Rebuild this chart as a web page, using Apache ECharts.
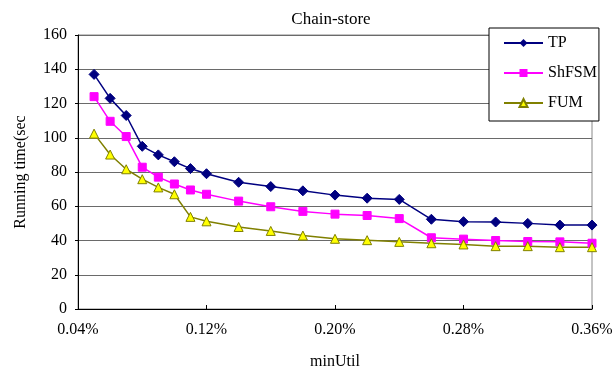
<!DOCTYPE html>
<html>
<head>
<meta charset="utf-8">
<script src="https://cdn.jsdelivr.net/npm/echarts@6/dist/echarts.min.js"></script>
<style>html,body{margin:0;padding:0;background:#fff;}#c{width:614px;height:371px;}</style>
</head>
<body>
<div id="c"></div>
<script>
const minUtil = [0.05,0.06,0.07,0.08,0.09,0.10,0.11,0.12,0.14,0.16,0.18,0.20,0.22,0.24,0.26,0.28,0.30,0.32,0.34,0.36];
const tp    = [137, 123, 113, 95, 90, 86, 82, 79, 74, 71.5, 69, 66.5, 64.7, 64, 52.4, 51, 50.8, 50, 49, 49];
const shfsm = [124, 109.6, 100.7, 82.8, 77, 73, 69.5, 67, 63, 59.7, 57, 55.4, 54.6, 52.8, 41.6, 40.8, 40, 39.4, 39.2, 38.4];
const fum   = [102.4, 90.2, 81.6, 75.8, 71, 67, 53.8, 51.2, 47.9, 45.6, 42.9, 41, 40.2, 39.2, 38.4, 37.7, 36.7, 36.7, 36.1, 36.1];
const xTicks = [0.04, 0.12, 0.20, 0.28, 0.36];
const seriesNames = ['TP', 'ShFSM', 'FUM'];

const FONT = 'Liberation Serif';
const pair = arr => arr.map((v, i) => [minUtil[i], v]);

const chart = echarts.init(document.getElementById('c'), null, {renderer: 'canvas'});
chart.setOption({
  animation: false,
  backgroundColor: '#fff',
  textStyle: {fontFamily: FONT},
  title: {
    text: 'Chain-store', left: 326, top: 6, textAlign: 'center',
    textStyle: {fontFamily: FONT, fontSize: 17, fontWeight: 'normal', color: '#000'}
  },
  grid: {left: 78, right: 22, top: 35, bottom: 62, show: true, borderColor: '#888', borderWidth: 1,
         containLabel: false, outerBoundsMode: 'none'},
  legend: {
    orient: 'vertical', left: 489, top: 28,
    padding: [7, 2, 10, 14],
    itemGap: 14, itemWidth: 39, itemHeight: 10,
    backgroundColor: '#fff', borderColor: '#000', borderWidth: 1,
    textStyle: {fontFamily: FONT, fontSize: 16, color: '#000', lineHeight: 16},
    data: seriesNames
  },
  xAxis: {
    type: 'value', min: 0.04, max: 0.36,
    name: 'minUtil', nameLocation: 'middle', nameGap: 45,
    nameTextStyle: {fontFamily: FONT, fontSize: 16, color: '#000'},
    axisLine: {show: true, onZero: false, lineStyle: {color: '#000', width: 1}},
    axisTick: {show: true, inside: true, length: 4, customValues: xTicks, lineStyle: {color: '#000'}},
    axisLabel: {customValues: xTicks, margin: 13, fontFamily: FONT, fontSize: 16, color: '#000',
      formatter: v => v.toFixed(2) + '%'},
    splitLine: {show: false}
  },
  yAxis: {
    type: 'value', min: 0, max: 160, interval: 20,
    name: 'Running time(sec', nameLocation: 'middle', nameGap: 49, nameRotate: 90,
    nameTextStyle: {fontFamily: FONT, fontSize: 16, color: '#000'},
    axisLine: {show: true, lineStyle: {color: '#000', width: 1}},
    axisTick: {show: true, inside: false, length: 3, lineStyle: {color: '#000'}},
    axisLabel: {margin: 11, fontFamily: FONT, fontSize: 16, color: '#000', formatter: v => String(v)},
    splitLine: {show: true, lineStyle: {color: '#6a6a6a', width: 1}}
  },
  series: [
    {name: 'TP', type: 'line', data: pair(tp), symbol: 'diamond', symbolSize: 10,
     lineStyle: {color: '#000080', width: 1.5}, itemStyle: {color: '#000080', borderColor: '#000080'}},
    {name: 'ShFSM', type: 'line', data: pair(shfsm), symbol: 'rect', symbolSize: 8,
     lineStyle: {color: '#FF00FF', width: 1.5}, itemStyle: {color: '#FF00FF', borderColor: '#FF00FF'}},
    {name: 'FUM', type: 'line', data: pair(fum), symbol: 'triangle', symbolSize: 9,
     lineStyle: {color: '#808000', width: 1.5}, itemStyle: {color: '#FFFF00', borderColor: '#808000', borderWidth: 1}}
  ]
});
</script>
</body>
</html>
